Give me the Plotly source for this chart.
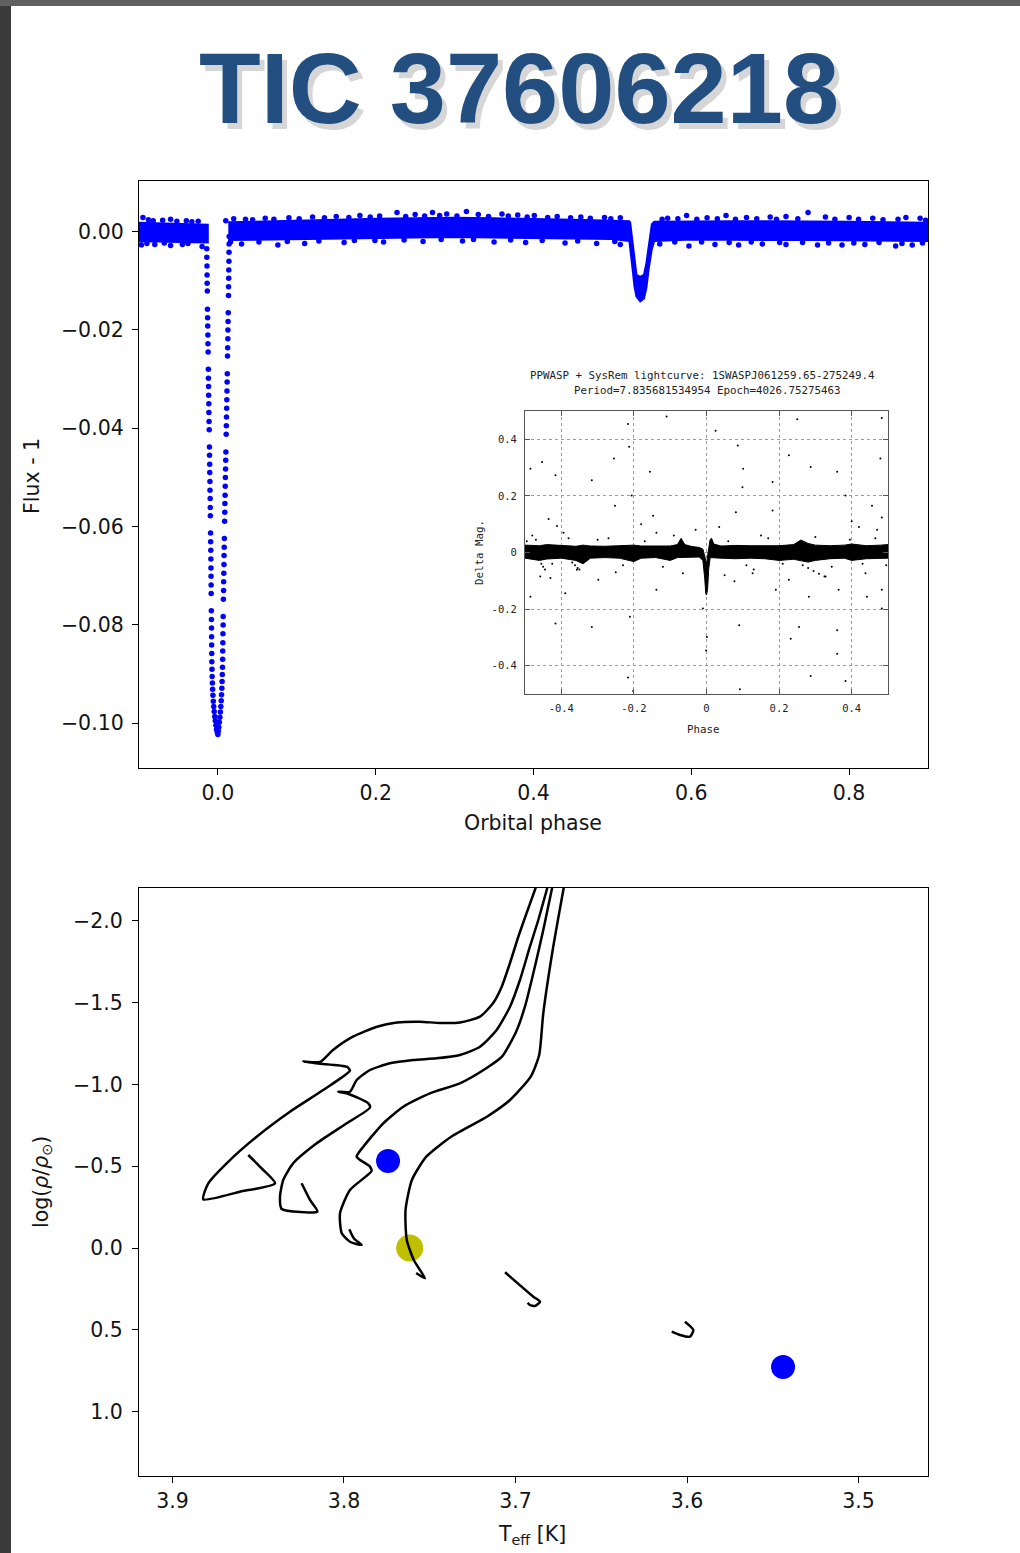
import plotly.graph_objects as go

W, H = 1020, 1553


def fx(p):
    """pixel column -> paper x"""
    return p / W


def fy(p):
    """pixel row -> paper y"""
    return 1 - p / H


# ---------------- TESS phase-folded light curve ----------------
# out-of-eclipse continuum, split by the primary eclipse
cont_left_phase = [-0.100, -0.075, -0.050, -0.030, -0.0128]
cont_left_upper = [0.0018, 0.0017, 0.0016, 0.0015, 0.0014]
cont_left_lower = [-0.0020, -0.0020, -0.0021, -0.0021, -0.0022]

cont_right_phase = [0.0132, 0.05, 0.10, 0.15, 0.20, 0.25, 0.30, 0.35, 0.40, 0.45, 0.50,
                    0.5215, 0.5226, 0.5255, 0.5280, 0.5305, 0.5353, 0.5400, 0.5430,
                    0.5460, 0.5500, 0.5530, 0.60, 0.65, 0.70, 0.75, 0.80, 0.85, 0.90]
cont_right_upper = [0.0019, 0.0020, 0.0022, 0.0024, 0.0026, 0.0027, 0.0028, 0.0027, 0.0026, 0.0024, 0.0022,
                    0.0021, 0.0018, -0.0020, -0.0065, -0.0088, -0.0092, -0.0088, -0.0065,
                    -0.0030, 0.0015, 0.0020, 0.0021, 0.0021, 0.0021, 0.0021, 0.0020, 0.0019, 0.0018]
cont_right_lower = [-0.0017, -0.0017, -0.0015, -0.0014, -0.0013, -0.0012, -0.0011, -0.0012, -0.0013, -0.0014, -0.0015,
                    -0.0019, -0.0040, -0.0075, -0.0112, -0.0132, -0.0142, -0.0136, -0.0115,
                    -0.0075, -0.0035, -0.0019, -0.0016, -0.0016, -0.0017, -0.0017, -0.0018, -0.0018, -0.0019]

# individual points scattered off the continuum
cont_pts_phase = [-0.095, -0.088, -0.070, -0.060, -0.040, -0.025, 0.020, 0.035, 0.060, 0.090,
                  0.120, 0.150, 0.180, 0.205, 0.227, 0.250, 0.272, 0.290, 0.315, 0.330,
                  0.360, 0.380, 0.401, 0.430, 0.460, 0.490, 0.510, 0.570, 0.594, 0.620,
                  0.644, 0.670, 0.700, 0.720, 0.748, 0.770, 0.800, 0.830, 0.872, 0.890,
                  -0.097, -0.080, -0.060, -0.045, -0.020, 0.030, 0.076, 0.110, 0.160, 0.210,
                  0.260, 0.310, 0.350, 0.390, 0.440, 0.480, 0.510, 0.560, 0.597, 0.630,
                  0.660, 0.690, 0.720, 0.760, 0.791, 0.820, 0.859, 0.880,
                  -0.082, -0.052, -0.033, 0.010, 0.044, 0.071, 0.103, 0.135, 0.166, 0.193,
                  0.238, 0.262, 0.281, 0.303, 0.343, 0.368, 0.392, 0.418, 0.447, 0.472,
                  0.498, 0.563, 0.583, 0.607, 0.633, 0.656, 0.683, 0.708, 0.735, 0.782,
                  0.812, 0.843, 0.862, 0.897,
                  -0.090, -0.068, -0.038, 0.016, 0.052, 0.088, 0.128, 0.173, 0.199, 0.236,
                  0.283, 0.324, 0.371, 0.411, 0.456, 0.503, 0.579, 0.613, 0.648, 0.676,
                  0.712, 0.741, 0.774, 0.806, 0.838, 0.867, 0.893]
cont_pts_flux = [0.0029, 0.0024, 0.0023, 0.0025, 0.0022, 0.0021, 0.0026, 0.0025, 0.0027, 0.0028,
                 0.0030, 0.0031, 0.0033, 0.0032, 0.0039, 0.0035, 0.0039, 0.0036, 0.0041, 0.0035,
                 0.0036, 0.0034, 0.0033, 0.0031, 0.0030, 0.0029, 0.0028, 0.0027, 0.0033, 0.0028,
                 0.0033, 0.0029, 0.0030, 0.0031, 0.0039, 0.0030, 0.0029, 0.0027, 0.0029, 0.0027,
                 -0.0027, -0.0026, -0.0028, -0.0026, -0.0030, -0.0025, -0.0027, -0.0024, -0.0022, -0.0021,
                 -0.0020, -0.0019, -0.0021, -0.0022, -0.0023, -0.0024, -0.0026, -0.0025, -0.0029, -0.0026,
                 -0.0027, -0.0025, -0.0026, -0.0027, -0.0027, -0.0026, -0.0029, -0.0027,
                 0.0022, 0.0021, 0.0020, 0.0022, 0.0024, 0.0025, 0.0026, 0.0028, 0.0029, 0.0030,
                 0.0031, 0.0032, 0.0033, 0.0032, 0.0031, 0.0032, 0.0030, 0.0029, 0.0028, 0.0027,
                 0.0026, 0.0025, 0.0026, 0.0025, 0.0026, 0.0025, 0.0026, 0.0025, 0.0026, 0.0025,
                 0.0025, 0.0024, 0.0025, 0.0023,
                 -0.0024, -0.0023, -0.0024, -0.0021, -0.0021, -0.0020, -0.0019, -0.0018, -0.0018, -0.0017,
                 -0.0016, -0.0016, -0.0017, -0.0018, -0.0019, -0.0020, -0.0021, -0.0021, -0.0022, -0.0021,
                 -0.0022, -0.0022, -0.0023, -0.0023, -0.0022, -0.0024, -0.0023]

# primary eclipse: ingress and egress points
ingress_phase = [-0.0141, -0.0140, -0.0138, -0.0137, -0.0136, -0.0134, -0.0132, -0.0130, -0.0129,
                 -0.0127, -0.0126, -0.0124, -0.0121, -0.0120, -0.0118, -0.0117, -0.0115, -0.0114,
                 -0.0112, -0.0110, -0.0107, -0.0106, -0.0104, -0.0103, -0.0101, -0.0100, -0.0098,
                 -0.0097, -0.0096, -0.0093, -0.0092, -0.0090, -0.0089, -0.0088, -0.0087, -0.0086,
                 -0.0085, -0.0083, -0.0082, -0.0081, -0.0080, -0.0079, -0.0078, -0.0077, -0.0075,
                 -0.0073, -0.0070, -0.0067, -0.0063, -0.0058, -0.0053, -0.0047, -0.0040, -0.0033, -0.0025,
                 -0.0017, -0.0009, 0.0000]
ingress_flux = [-0.0035, -0.0052, -0.0070, -0.0088, -0.0105, -0.0121, -0.0158, -0.0175, -0.0192,
                -0.0210, -0.0228, -0.0245, -0.0280, -0.0298, -0.0315, -0.0333, -0.0350, -0.0368,
                -0.0386, -0.0403, -0.0438, -0.0455, -0.0473, -0.0490, -0.0508, -0.0526, -0.0543,
                -0.0561, -0.0578, -0.0613, -0.0631, -0.0648, -0.0666, -0.0684, -0.0701, -0.0719,
                -0.0736, -0.0771, -0.0789, -0.0806, -0.0824, -0.0841, -0.0858, -0.0875, -0.0890,
                -0.0905, -0.0918, -0.0931, -0.0943, -0.0955, -0.0966, -0.0976, -0.0986, -0.0995, -0.1004,
                -0.1012, -0.1018, -0.1023]

egress_phase = [0.0143, 0.0142, 0.0141, 0.0140, 0.0138, 0.0137, 0.0135, 0.0134, 0.0131,
                0.0129, 0.0127, 0.0126, 0.0124, 0.0122, 0.0119, 0.0117, 0.0115, 0.0113,
                0.0111, 0.0109, 0.0107, 0.0105, 0.0101, 0.0099, 0.0097, 0.0095, 0.0093,
                0.0091, 0.0089, 0.0087, 0.0085, 0.0082, 0.0080, 0.0078, 0.0077, 0.0075,
                0.0073, 0.0072, 0.0070, 0.0067, 0.0066, 0.0064, 0.0063, 0.0061, 0.0060,
                0.0058, 0.0056, 0.0053, 0.0050, 0.0046, 0.0042, 0.0037, 0.0031, 0.0025, 0.0018,
                0.0011, 0.0005]
egress_flux = [-0.0010, -0.0025, -0.0042, -0.0060, -0.0078, -0.0095, -0.0112, -0.0130, -0.0165,
               -0.0183, -0.0200, -0.0218, -0.0236, -0.0253, -0.0289, -0.0306, -0.0324, -0.0342,
               -0.0359, -0.0377, -0.0395, -0.0412, -0.0448, -0.0465, -0.0483, -0.0500, -0.0518,
               -0.0536, -0.0553, -0.0571, -0.0589, -0.0624, -0.0642, -0.0659, -0.0677, -0.0695,
               -0.0712, -0.0730, -0.0748, -0.0783, -0.0800, -0.0818, -0.0836, -0.0853, -0.0870,
               -0.0886, -0.0901, -0.0915, -0.0929, -0.0942, -0.0954, -0.0966, -0.0977, -0.0988, -0.0998,
               -0.1008, -0.1016]

lc_xticks = [0.0, 0.2, 0.4, 0.6, 0.8]
lc_xlabels = ["0.0", "0.2", "0.4", "0.6", "0.8"]
lc_yticks = [0.00, -0.02, -0.04, -0.06, -0.08, -0.10]
lc_ylabels = ["0.00", "\u22120.02", "\u22120.04", "\u22120.06", "\u22120.08", "\u22120.10"]

# ---------------- SuperWASP inset ----------------
wasp_band_phase = [-0.500, -0.460, -0.440, -0.400, -0.360, -0.340, -0.320, -0.280, -0.240, -0.200,
                   -0.180, -0.140, -0.100, -0.080, -0.070, -0.060, -0.040, -0.020, -0.010, -0.005,
                   -0.002, 0.000, 0.003, 0.006, 0.010, 0.014, 0.020, 0.040, 0.080, 0.120,
                   0.160, 0.200, 0.240, 0.260, 0.280, 0.300, 0.340, 0.380, 0.400, 0.440,
                   0.480, 0.500]
wasp_band_upper = [0.026, 0.024, 0.028, 0.024, 0.022, 0.026, 0.023, 0.022, 0.024, 0.026,
                   0.023, 0.022, 0.023, 0.028, 0.050, 0.028, 0.021, 0.018, 0.012, -0.012,
                   -0.032, -0.042, -0.012, 0.018, 0.046, 0.050, 0.030, 0.023, 0.025, 0.024,
                   0.025, 0.024, 0.028, 0.044, 0.032, 0.026, 0.024, 0.026, 0.030, 0.024,
                   0.026, 0.028]
wasp_band_lower = [-0.020, -0.028, -0.023, -0.020, -0.028, -0.040, -0.020, -0.018, -0.020, -0.032,
                   -0.020, -0.018, -0.028, -0.018, -0.016, -0.016, -0.016, -0.016, -0.028, -0.090,
                   -0.145, -0.150, -0.130, -0.060, -0.018, -0.016, -0.018, -0.020, -0.022, -0.020,
                   -0.022, -0.028, -0.024, -0.028, -0.034, -0.028, -0.022, -0.020, -0.028, -0.022,
                   -0.020, -0.020]

wasp_pts_phase = [-0.110, -0.216, -0.213, -0.255, -0.453, -0.485, -0.416, -0.316, -0.156, 0.025,
                  0.086, 0.101, 0.099, 0.227, 0.287, 0.250, 0.360, 0.483, 0.479, 0.383,
                  0.456, 0.483, 0.182, 0.182, 0.081, -0.252, -0.206, -0.147, -0.389, -0.458,
                  -0.485, -0.416, -0.357, -0.211, -0.216, -0.202, -0.138, -0.065, -0.010, -0.001,
                  0.001, 0.090, 0.092, 0.077, 0.127, 0.191, 0.227, 0.282, 0.328, 0.255,
                  0.232, 0.287, 0.360, 0.360, 0.383, 0.438, 0.483, 0.483, 0.442, 0.364,
                  -0.298, -0.316, -0.412, -0.435, -0.394, -0.138, -0.455, -0.450, -0.445, -0.370,
                  -0.362, -0.355, -0.350, 0.265, 0.280, 0.295, 0.310, 0.325, 0.035, -0.030,
                  0.150, 0.420, -0.480, 0.470, -0.250, 0.130, -0.180, 0.050, -0.430, 0.400,
                  -0.470, -0.425, -0.380, -0.300, -0.230, -0.170, -0.120, -0.090, 0.060, 0.110,
                  0.170, 0.210, 0.300, 0.345, 0.395, 0.430, 0.465, 0.495, -0.495, -0.270]
wasp_pts_mag = [0.481, 0.454, 0.374, 0.332, 0.320, 0.296, 0.273, 0.255, 0.285, 0.430,
                0.378, 0.296, 0.231, 0.344, 0.302, 0.471, 0.285, 0.475, 0.332, 0.201,
                0.165, 0.124, 0.249, 0.148, 0.142, 0.165, 0.201, 0.130, -0.144, -0.085,
                -0.156, -0.251, -0.061, -0.227, -0.442, -0.489, -0.132, -0.073, -0.198, -0.346,
                -0.299, -0.257, -0.483, -0.102, -0.073, -0.132, -0.096, -0.156, -0.085, -0.263,
                -0.305, -0.436, -0.358, -0.275, -0.454, -0.073, -0.132, -0.198, -0.156, -0.132,
                -0.096, -0.263, 0.094, 0.118, 0.070, 0.070, -0.040, -0.050, -0.060, -0.035,
                -0.045, -0.055, -0.060, -0.045, -0.055, -0.065, -0.075, -0.085, 0.090, 0.080,
                0.060, 0.090, 0.060, 0.080, -0.070, -0.060, 0.100, -0.080, -0.090, 0.110,
                0.045, -0.040, 0.050, 0.045, -0.045, 0.040, -0.050, 0.060, 0.040, -0.045,
                0.050, -0.040, 0.055, -0.050, 0.045, -0.040, 0.050, -0.045, 0.040, 0.050]

wasp_ticks = [-0.4, -0.2, 0.0, 0.2, 0.4]
wasp_labels = ["-0.4", "-0.2", "0", "0.2", "0.4"]

# ---------------- density vs temperature diagram ----------------
track1_teff = [3.6846, 3.6887, 3.6935, 3.6984, 3.7032, 3.7081, 3.7130, 3.7207, 3.7324, 3.7440,
               3.7557, 3.7691, 3.7808, 3.7948, 3.8064, 3.8140, 3.8237, 3.8152, 3.7984, 3.7965,
               3.8121, 3.8315, 3.8509, 3.8684, 3.8791, 3.8820, 3.8606, 3.8402, 3.8480, 3.8558]
track1_rho = [-2.3119, -2.1896, -2.0489, -1.9021, -1.7431, -1.5963, -1.4984, -1.4147, -1.3792, -1.3761,
              -1.3841, -1.3792, -1.3535, -1.2923, -1.2110, -1.1376, -1.1406, -1.1284, -1.1088, -1.0856,
              -0.9663, -0.8336, -0.6807, -0.5180, -0.3957, -0.2978, -0.3443, -0.3957, -0.4875, -0.5688]

track2_teff = [3.6786, 3.6818, 3.6867, 3.6916, 3.6974, 3.7032, 3.7110, 3.7207, 3.7324, 3.7460,
               3.7596, 3.7732, 3.7848, 3.7926, 3.7965, 3.8033, 3.7984, 3.7858, 3.7848, 3.7984,
               3.8159, 3.8296, 3.8354, 3.8373, 3.8363, 3.8155, 3.8198, 3.8247]
track2_rho = [-2.3119, -2.1896, -2.0061, -1.8428, -1.6391, -1.4758, -1.3333, -1.2312, -1.1804, -1.1602,
              -1.1498, -1.1296, -1.0886, -1.0275, -0.9559, -0.9559, -0.9461, -0.8850, -0.8593, -0.7627,
              -0.6403, -0.5180, -0.4159, -0.3138, -0.2385, -0.2232, -0.2936, -0.3957]

track3_teff = [3.6765, 3.6789, 3.6838, 3.6887, 3.6945, 3.6997, 3.7079, 3.7168, 3.7324, 3.7499,
               3.7654, 3.7771, 3.7887, 3.7926, 3.7848, 3.7839, 3.7965, 3.8023, 3.8013, 3.7965,
               3.7897, 3.7942, 3.7969]
track3_rho = [-2.3119, -2.1896, -1.9449, -1.7204, -1.4758, -1.3211, -1.1700, -1.1009, -1.0073, -0.9461,
              -0.8642, -0.7627, -0.6196, -0.5584, -0.4972, -0.4709, -0.3547, -0.2122, -0.0899, -0.0385,
              -0.0183, -0.0581, -0.1144]

track4_teff = [3.6701, 3.6721, 3.6780, 3.6838, 3.6862, 3.6910, 3.7032, 3.7167, 3.7375, 3.7520,
               3.7604, 3.7641, 3.7634, 3.7593, 3.7528, 3.7579]
track4_rho = [-2.3119, -2.1896, -1.8428, -1.4355, -1.1800, -1.0500, -0.9052, -0.8030, -0.6807, -0.5584,
              -0.4159, -0.2324, -0.0489, 0.0734, 0.1853, 0.1529]

track5_teff = [3.7061, 3.6896, 3.6857, 3.6886, 3.6916, 3.6929]
track5_rho = [0.1486, 0.2979, 0.3284, 0.3547, 0.3486, 0.3345]

track6_teff = [3.6012, 3.5963, 3.5983, 3.6041, 3.6089]
track6_rho = [0.4508, 0.5015, 0.5425, 0.5321, 0.5119]

binary_teff = [3.7743, 3.5440]
binary_rho = [-0.532, 0.728]
sun_teff = [3.7617]
sun_rho = [0.0]

hr_xticks = [3.9, 3.8, 3.7, 3.6, 3.5]
hr_xlabels = ["3.9", "3.8", "3.7", "3.6", "3.5"]
hr_yticks = [-2.0, -1.5, -1.0, -0.5, 0.0, 0.5, 1.0]
hr_ylabels = ["\u22122.0", "\u22121.5", "\u22121.0", "\u22120.5", "0.0", "0.5", "1.0"]

BLUE = "#0000ff"
MPL_FONT = "DejaVu Sans"
GP_FONT = "DejaVu Sans Mono"
TXT = "#141414"

fig = go.Figure()


def polygon(ph, up, lo):
    return list(ph) + list(ph)[::-1], list(up) + list(lo)[::-1]


# light curve continuum bands
for ph, up, lo in [(cont_left_phase, cont_left_upper, cont_left_lower),
                   (cont_right_phase, cont_right_upper, cont_right_lower)]:
    px_, py_ = polygon(ph, up, lo)
    fig.add_trace(go.Scatter(x=px_, y=py_, mode="lines", fill="toself",
                             fillcolor=BLUE, line=dict(color=BLUE, width=2),
                             xaxis="x", yaxis="y", hoverinfo="skip", showlegend=False))

fig.add_trace(go.Scatter(
    x=cont_pts_phase + ingress_phase + egress_phase,
    y=cont_pts_flux + ingress_flux + egress_flux,
    mode="markers", marker=dict(color=BLUE, size=5.5, line=dict(width=0)),
    xaxis="x", yaxis="y", showlegend=False))

# SuperWASP inset
px_, py_ = polygon(wasp_band_phase, wasp_band_upper, wasp_band_lower)
fig.add_trace(go.Scatter(x=px_, y=py_, mode="lines", fill="toself", fillcolor="black",
                         line=dict(color="black", width=1),
                         xaxis="x2", yaxis="y2", hoverinfo="skip", showlegend=False))
fig.add_trace(go.Scatter(x=wasp_pts_phase, y=wasp_pts_mag, mode="markers",
                         marker=dict(color="black", size=2, line=dict(width=0)),
                         xaxis="x2", yaxis="y2", showlegend=False))

# binary components and the Sun
fig.add_trace(go.Scatter(x=binary_teff, y=binary_rho, mode="markers",
                         marker=dict(color=BLUE, size=24, line=dict(width=0)),
                         xaxis="x3", yaxis="y3", showlegend=False))
fig.add_trace(go.Scatter(x=sun_teff, y=sun_rho, mode="markers",
                         marker=dict(color="#bfbf00", size=27, line=dict(width=0)),
                         xaxis="x3", yaxis="y3", showlegend=False))

# evolutionary tracks
for tx, ty in [(track1_teff, track1_rho), (track2_teff, track2_rho),
               (track3_teff, track3_rho), (track4_teff, track4_rho),
               (track5_teff, track5_rho), (track6_teff, track6_rho)]:
    fig.add_trace(go.Scatter(x=tx, y=ty, mode="lines",
                             line=dict(color="black", width=2.5, shape="spline", smoothing=0.6),
                             xaxis="x3", yaxis="y3", showlegend=False))

mpl_axis = dict(showgrid=False, zeroline=False, showline=True, mirror=True,
                linecolor="black", linewidth=1.3, ticks="outside", ticklen=6,
                tickwidth=1.2, tickcolor="black",
                tickfont=dict(family=MPL_FONT, size=20.5, color=TXT))

gp_axis = dict(showgrid=True, gridcolor="#9a9a9a", griddash="dot", gridwidth=1,
               zeroline=False, showline=True, mirror="allticks", linecolor="#555555",
               linewidth=1, ticks="inside", ticklen=5, tickcolor="#555555",
               tickfont=dict(family=GP_FONT, size=10.5, color="#222222"))

fig.update_layout(
    width=W, height=H, autosize=False,
    margin=dict(l=0, r=0, t=0, b=0),
    paper_bgcolor="#3a3a3a", plot_bgcolor="white",
    xaxis=dict(domain=[fx(139), fx(928)], range=[-0.1, 0.9], anchor="y",
               tickvals=lc_xticks, ticktext=lc_xlabels, **mpl_axis),
    yaxis=dict(domain=[fy(768), fy(181)], range=[-0.1091, 0.0103], anchor="x",
               tickvals=lc_yticks, ticktext=lc_ylabels, ticklabelstandoff=4, **mpl_axis),
    xaxis2=dict(domain=[fx(525), fx(888)], range=[-0.5, 0.5], anchor="y2",
                tickvals=wasp_ticks, ticktext=wasp_labels, ticklabelstandoff=4, **gp_axis),
    yaxis2=dict(domain=[fy(694), fy(411)], range=[-0.5, 0.5], anchor="x2",
                tickvals=wasp_ticks, ticktext=wasp_labels, ticklabelstandoff=5, **gp_axis),
    xaxis3=dict(domain=[fx(139), fx(928)], range=[3.9195, 3.4595], anchor="y3",
                tickvals=hr_xticks, ticktext=hr_xlabels, **mpl_axis),
    yaxis3=dict(domain=[fy(1476), fy(888)], range=[1.3945, -2.2018], anchor="x3",
                tickvals=hr_yticks, ticktext=hr_ylabels, ticklabelstandoff=5, **mpl_axis),
)

# slide background
fig.add_shape(type="rect", xref="paper", yref="paper", x0=0, x1=1, y0=fy(6), y1=1,
              fillcolor="#606060", line=dict(width=0), layer="below")
fig.add_shape(type="rect", xref="paper", yref="paper", x0=fx(11), x1=1, y0=0, y1=fy(6),
              fillcolor="white", line=dict(width=0), layer="below")

ann = []
# title with a soft drop shadow
ann.append(dict(x=fx(524), y=fy(94), xref="paper", yref="paper",
                text="TIC 37606218", showarrow=False, xanchor="center", yanchor="middle",
                font=dict(family="Liberation Sans", size=101, color="rgba(0,0,0,0.16)",
                          weight="bold")))
ann.append(dict(x=fx(519), y=fy(88), xref="paper", yref="paper",
                text="TIC 37606218", showarrow=False, xanchor="center", yanchor="middle",
                font=dict(family="Liberation Sans", size=101, color="#224f80", weight="bold")))

# axis titles
ann += [
    dict(x=fx(32), y=fy(476), text="Flux - 1", textangle=-90),
    dict(x=fx(533), y=fy(823), text="Orbital phase"),
    dict(x=fx(42), y=fy(1182), text="log(<i>ρ</i>/<i>ρ</i><sub>⊙</sub>)", textangle=-90),
    dict(x=fx(532), y=fy(1535), text="T<sub>eff</sub> [K]"),
]
for a in ann[-4:]:
    a.update(xref="paper", yref="paper", showarrow=False, xanchor="center", yanchor="middle",
             font=dict(family=MPL_FONT, size=20.5, color=TXT))

# inset labels
for x, y, t, ang in [(702, 376, "PPWASP + SysRem lightcurve: 1SWASPJ061259.65-275249.4", 0),
                     (707, 390.5, "Period=7.835681534954 Epoch=4026.75275463", 0),
                     (703, 730, "Phase", 0),
                     (480, 553, "Delta Mag.", -90)]:
    ann.append(dict(x=fx(x), y=fy(y), xref="paper", yref="paper", text=t, textangle=ang,
                    showarrow=False, xanchor="center", yanchor="middle",
                    font=dict(family=GP_FONT, size=10.8, color="#222222")))

fig.update_layout(annotations=ann)

fig.write_html("out.html")
